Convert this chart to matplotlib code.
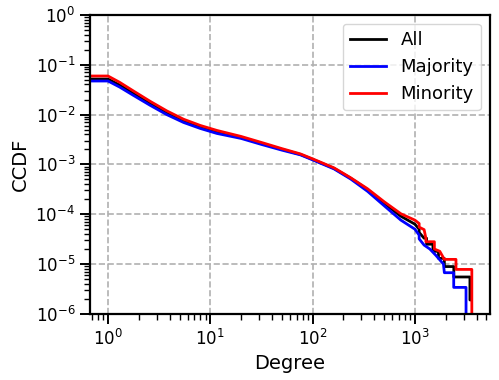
import matplotlib
matplotlib.use("Agg")
import matplotlib.pyplot as plt

# ---- data ----
series_names = ["All", "Majority", "Minority"]
series_colors = ["black", "blue", "red"]

deg_body = [0, 1, 1.3, 1.77, 2.58, 3.76, 5.47, 7.98, 11.6, 20, 31.6, 50, 76, 100,
            162, 236, 344, 500, 729, 1000]

ccdf_all_body = [0.0515, 0.0515, 0.0389, 0.0265, 0.0166, 0.0108, 0.0074, 0.0056, 0.0045,
                 0.00347, 0.00263, 0.0020, 0.00158, 0.00126, 8.3e-4, 5.25e-4, 3.1e-4,
                 1.66e-4, 9.1e-5, 6.3e-5]
ccdf_maj_body = [0.047, 0.047, 0.0355, 0.0242, 0.0153, 0.00993, 0.00693, 0.00525, 0.00417,
                 0.00331, 0.00251, 0.00193, 0.00155, 0.00123, 8.1e-4, 5.07e-4, 2.88e-4,
                 1.48e-4, 7.6e-5, 5.0e-5]
ccdf_min_body = [0.0592, 0.0592, 0.0442, 0.0297, 0.0184, 0.0118, 0.00805, 0.00603, 0.00479,
                 0.00363, 0.00275, 0.00207, 0.00162, 0.00129, 8.5e-4, 5.37e-4, 3.24e-4,
                 1.78e-4, 1.02e-4, 7.6e-5]

deg_all_tail = [1100, 1100, 1230, 1300, 1300, 1500, 1500, 1700, 1700, 1940, 1940,
                2400, 2400, 3450, 3450, 3540]
ccdf_all_tail = [5.0e-5, 4.3e-5, 3.3e-5, 3.3e-5, 2.5e-5, 2.5e-5, 1.8e-5, 1.8e-5, 1.3e-5,
                 1.3e-5, 8.9e-6, 8.9e-6, 5.5e-6, 5.5e-6, 1.9e-6, 1.9e-6]

deg_maj_tail = [1100, 1100, 1230, 1400, 1600, 1900, 1940, 2395, 2395, 3160, 3160]
ccdf_maj_tail = [3.8e-5, 3.2e-5, 2.4e-5, 2.0e-5, 1.5e-5, 1.0e-5, 6.7e-6, 6.7e-6, 3.4e-6,
                 3.4e-6, 0.0]

deg_min_tail = [1100, 1100, 1230, 1280, 1280, 1550, 1550, 1750, 1940, 2520, 2520,
                3600, 3600]
ccdf_min_tail = [6.5e-5, 5.5e-5, 4.9e-5, 3.3e-5, 2.8e-5, 2.8e-5, 2.0e-5, 1.8e-5, 1.24e-5,
                 1.24e-5, 7.8e-6, 7.8e-6, 0.0]

xs = [deg_body + deg_all_tail, deg_body + deg_maj_tail, deg_body + deg_min_tail]
ys = [ccdf_all_body + ccdf_all_tail, ccdf_maj_body + ccdf_maj_tail,
      ccdf_min_body + ccdf_min_tail]

# ---- plot ----
fig = plt.figure(figsize=(4.99, 3.8), dpi=100)
ax = fig.add_axes([0.180, 0.174, 0.802, 0.787])

for x, y, name, c in zip(xs, ys, series_names, series_colors):
    ax.plot(x, y, color=c, lw=2, label=name)

ax.set_xscale("log")
ax.set_yscale("log")
ax.set_ylim(1e-6, 1e0)
ax.grid(True, which="major", ls="--", color="#b0b0b0", lw=1.2)
ax.set_axisbelow(True)

for s in ax.spines.values():
    s.set_linewidth(1.6)
ax.tick_params(which="major", length=7, width=1.4, labelsize=12)
ax.tick_params(which="minor", length=4, width=1.0)

ax.set_xlabel("Degree", fontsize=14)
ax.set_ylabel("CCDF", fontsize=14)
ax.legend(loc="upper right", fontsize=13)

fig.savefig("out.png", dpi=100)
